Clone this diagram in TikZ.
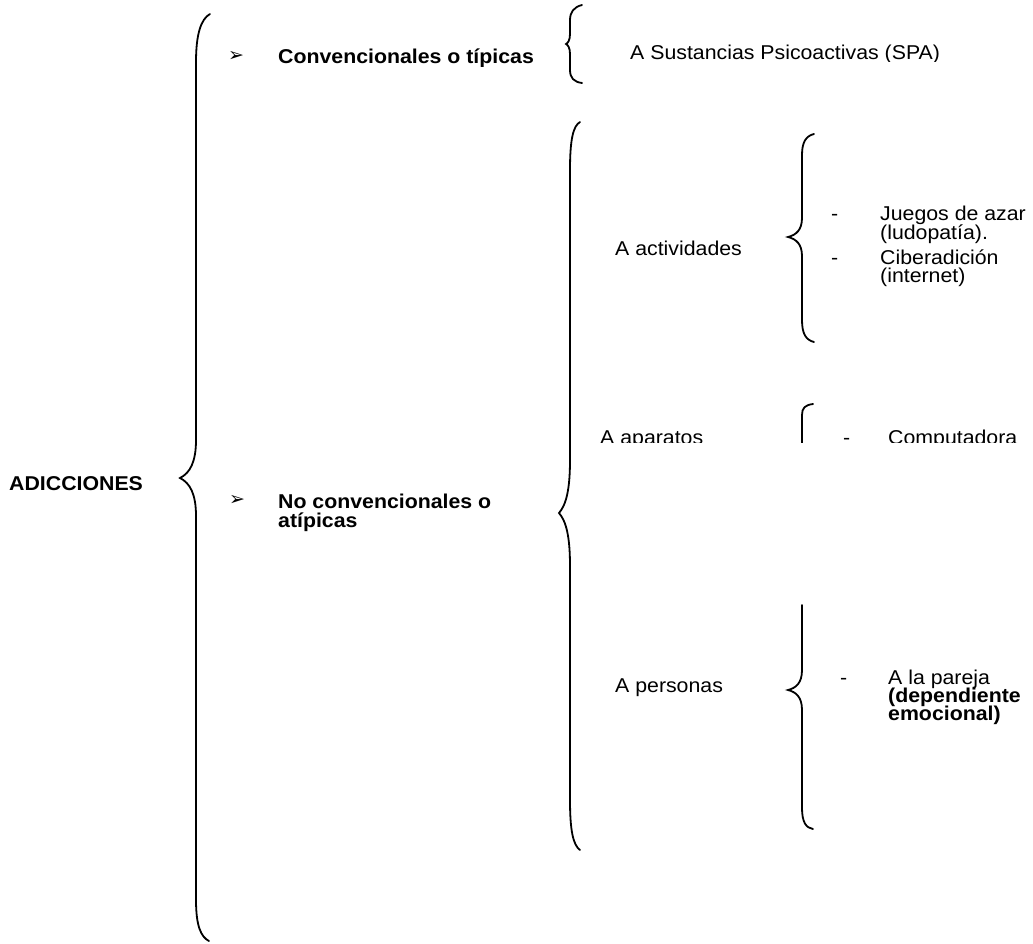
\documentclass[tikz,border=0pt]{standalone}
\usepackage{fontspec}
\setmainfont[FakeStretch=1.065]{Liberation Sans}
\newfontfamily\dejavu{DejaVu Sans}
\begin{document}
\begin{tikzpicture}[x=1pt,y=-1pt,
  txt/.style={anchor=base west,inner sep=0pt,font=\fontsize{20}{18}\selectfont},
  btxt/.style={anchor=base west,inner sep=0pt,font=\fontsize{20}{18}\selectfont\bfseries},
  bul/.style={anchor=base west,inner sep=0pt,font=\dejavu\fontsize{19}{19}\selectfont},
  brace/.style={line width=1.8pt,line cap=round}]
\useasboundingbox (0,0) rectangle (1033,944);

% main brace
\draw[brace] (210,14) .. controls (201,19) and (196,34) .. (196,62) -- (196,440)
  .. controls (196,462) and (190,473) .. (180,478)
  .. controls (190,483) and (196,494) .. (196,516) -- (196,900)
  .. controls (196,926) and (201,937) .. (209,941);
\node[btxt] (adic) at (9,490) {ADICCIONES};

% convencionales
\begin{scope}
\clip (0,0) rectangle (1033,67);
\node[bul] (b1) at (228,62) {➢};
\node[btxt] (conv) at (278,64) {Convencionales o típicas};
\end{scope}
\draw[brace] (582,5) .. controls (574,7) and (570,12) .. (570,20) -- (570,34)
  .. controls (570,40) and (568,43) .. (566,44)
  .. controls (568,45) and (570,48) .. (570,54) -- (570,70)
  .. controls (570,78) and (574,82) .. (582,83);
\begin{scope}
\clip (0,0) rectangle (1033,62);
\node[txt] (spa) at (630,60) {A Sustancias Psicoactivas (SPA)};
\end{scope}

% no convencionales
\node[bul] (b2) at (229,505) {➢};
\node[btxt] (noconv1) at (278,508) {No convencionales o};
\node[btxt] (noconv2) at (278,527) {atípicas};

\draw[brace] (580,122) .. controls (573,126) and (570,140) .. (570,170) -- (570,460)
  .. controls (570,490) and (566,505) .. (559,513)
  .. controls (566,521) and (570,536) .. (570,566) -- (570,800)
  .. controls (570,830) and (573,845) .. (580,850);

% actividades
\node[txt] (activ) at (615,255) {A actividades};
\draw[brace] (814,134) .. controls (806,136) and (802,142) .. (802,155) -- (802,218)
  .. controls (802,230) and (796,235) .. (788,237)
  .. controls (796,239) and (802,244) .. (802,256) -- (802,320)
  .. controls (802,334) and (806,340) .. (814,342);
\node[txt] (d1) at (831,221) {-};
\node[txt] (jue1) at (880,221) {Juegos de azar};
\node[txt] (jue2) at (880,239) {(ludopatía).};
\node[txt] (d2) at (831,264) {-};
\node[txt] (cib1) at (880,264) {Ciberadición};
\node[txt] (cib2) at (880,282) {(internet)};

% aparatos
\begin{scope}
\clip (0,0) rectangle (1033,442);
\node[txt] (apar) at (600,444) {A aparatos};
\draw[brace] (813,404) .. controls (805,405) and (802,408) .. (802,415) -- (802,445);
\node[txt] (d3) at (843,444) {-};
\node[txt] (comp) at (888,444) {Computadora};
\end{scope}

% personas
\node[txt] (pers) at (615,692) {A personas};
\draw[brace] (802,605) -- (802,670)
  .. controls (802,683) and (796,688) .. (788,690)
  .. controls (796,692) and (802,697) .. (802,710) -- (802,808)
  .. controls (802,822) and (806,828) .. (813,829);
\node[txt] (d4) at (840,684) {-};
\node[txt] (par1) at (888,684) {A la pareja};
\node[btxt] (par2) at (888,702) {(dependiente};
\node[btxt] (par3) at (888,720) {emocional)};
\end{tikzpicture}
\end{document}
